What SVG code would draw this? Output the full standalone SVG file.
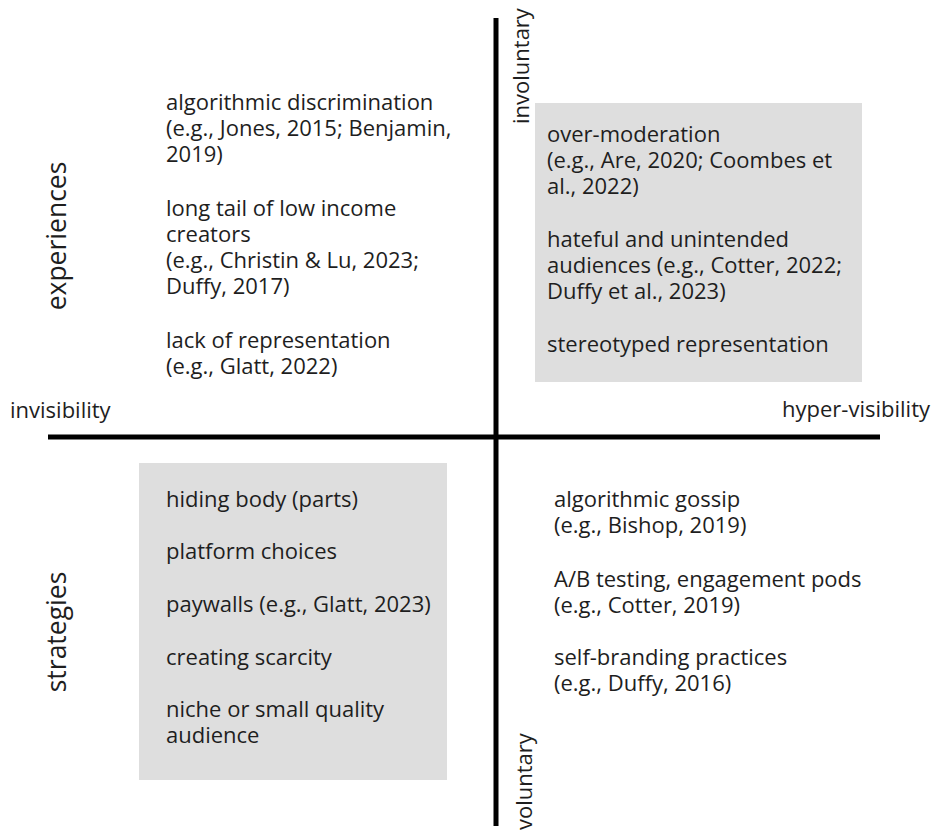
<svg xmlns="http://www.w3.org/2000/svg" width="936" height="833" viewBox="0 0 936 833">
<style>
text { font-family: "Open Sans", "Noto Sans", sans-serif; font-size: 22px; fill: #1e1e1e; }
.big { font-size: 26.5px; }
.box { fill: #dedede; }
.axis { stroke: #000; stroke-width: 5; fill: none; }
</style>
<rect width="936" height="833" fill="#fff"/>
<g id="connectors">
<line class="axis" x1="48" y1="437" x2="880" y2="437"/>
<line class="axis" x1="496" y1="18" x2="496" y2="826"/>
</g>
<g id="axis-labels">
<text x="10" y="418">invisibility</text>
<text x="930" y="417" text-anchor="end">hyper-visibility</text>
<text transform="translate(529,124) rotate(-90)">involuntary</text>
<text transform="translate(532,830) rotate(-90)">voluntary</text>
<text class="big" transform="translate(66,236) rotate(-90)" text-anchor="middle">experiences</text>
<text class="big" transform="translate(66,632) rotate(-90)" text-anchor="middle">strategies</text>
</g>
<g id="q-top-left">
<text x="166" y="110">algorithmic discrimination<tspan x="166" dy="26">(e.g., Jones, 2015; Benjamin,</tspan><tspan x="166" dy="26">2019)</tspan></text>
<text x="166" y="216">long tail of low income<tspan x="166" dy="26">creators</tspan><tspan x="166" dy="26">(e.g., Christin &amp; Lu, 2023;</tspan><tspan x="166" dy="26">Duffy, 2017)</tspan></text>
<text x="166" y="348">lack of representation<tspan x="166" dy="26">(e.g., Glatt, 2022)</tspan></text>
</g>
<g id="q-top-right">
<rect class="box" x="535" y="103" width="327" height="279"/>
<text x="547" y="142">over-moderation<tspan x="547" dy="26">(e.g., Are, 2020; Coombes et</tspan><tspan x="547" dy="26">al., 2022)</tspan></text>
<text x="547" y="247">hateful and unintended<tspan x="547" dy="26">audiences (e.g., Cotter, 2022;</tspan><tspan x="547" dy="26">Duffy et al., 2023)</tspan></text>
<text x="547" y="352">stereotyped representation</text>
</g>
<g id="q-bottom-left">
<rect class="box" x="139" y="463" width="308" height="317"/>
<text x="166" y="507">hiding body (parts)</text>
<text x="166" y="559">platform choices</text>
<text x="166" y="612">paywalls (e.g., Glatt, 2023)</text>
<text x="166" y="665">creating scarcity</text>
<text x="166" y="717">niche or small quality<tspan x="166" dy="26">audience</tspan></text>
</g>
<g id="q-bottom-right">
<text x="554" y="507">algorithmic gossip<tspan x="554" dy="26">(e.g., Bishop, 2019)</tspan></text>
<text x="554" y="587">A/B testing, engagement pods<tspan x="554" dy="26">(e.g., Cotter, 2019)</tspan></text>
<text x="554" y="665">self-branding practices<tspan x="554" dy="26">(e.g., Duffy, 2016)</tspan></text>
</g>
</svg>
